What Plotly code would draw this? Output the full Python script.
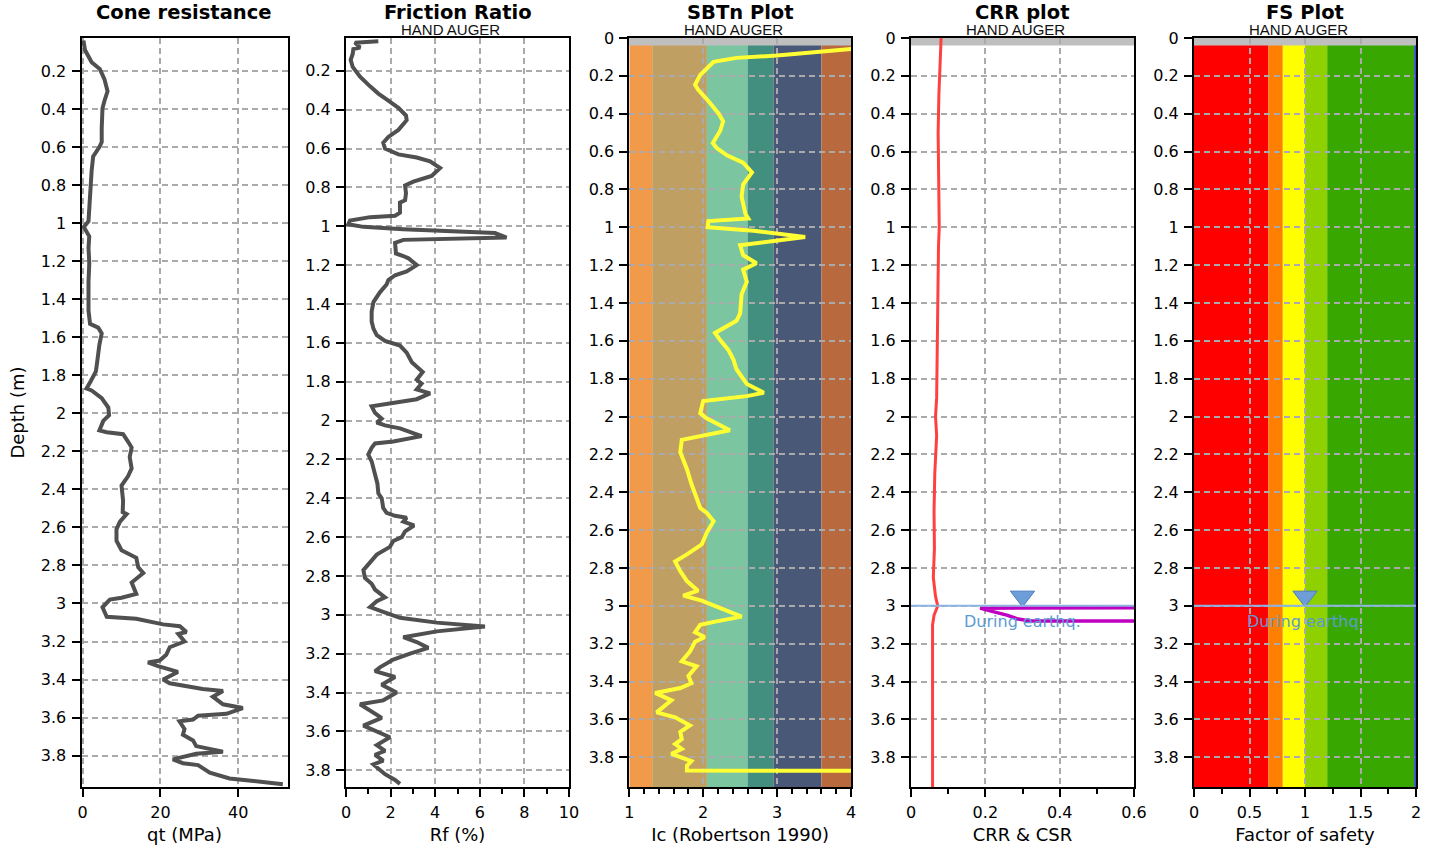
import plotly.graph_objects as go

# ---------------- data ----------------
qt_depth = [0.04, 0.09, 0.154, 0.19, 0.243, 0.307, 0.358, 0.396, 0.50, 0.574, 0.60, 0.65, 0.727, 0.80, 0.88,
            0.99, 1.02, 1.07, 1.13, 1.21, 1.31, 1.46, 1.53, 1.55, 1.58, 1.64, 1.72, 1.78, 1.83, 1.87, 1.88,
            1.92, 1.97, 2.01, 2.04, 2.09, 2.10, 2.11, 2.15, 2.18, 2.23, 2.29, 2.33, 2.38, 2.46, 2.52, 2.53,
            2.57, 2.61, 2.67, 2.72, 2.75, 2.76, 2.81, 2.84, 2.89, 2.95, 2.97, 2.98, 3.02, 3.07, 3.08, 3.11,
            3.12, 3.15, 3.16, 3.20, 3.23, 3.27, 3.30, 3.31, 3.33, 3.36, 3.40, 3.42, 3.45, 3.46, 3.49, 3.53,
            3.55, 3.58, 3.59, 3.61, 3.62, 3.66, 3.69, 3.72, 3.75, 3.78, 3.79, 3.82, 3.84, 3.85, 3.89, 3.92, 3.95]
qt_val = [0.2, 0.6, 2.3, 4.4, 5.6, 6.4, 5.6, 5.1, 4.9, 4.9, 4.3, 2.7, 2.3, 2.1, 1.7,
          1.5, 0.3, 1.7, 1.5, 1.7, 1.5, 1.5, 1.9, 4.0, 4.9, 4.3, 3.8, 3.4, 2.1, 1.0, 2.3,
          4.9, 6.6, 6.8, 5.3, 4.3, 6.2, 10.4, 11.7, 12.6, 12.1, 12.6, 11.7, 10.0, 10.4, 10.3, 11.3,
          9.6, 8.7, 8.7, 10.0, 12.6, 13.8, 14.3, 15.6, 12.6, 13.8, 10.0, 7.0, 5.1, 6.2, 13.8, 20.7,
          25.0, 26.7, 24.6, 26.2, 22.4, 21.5, 19.8, 16.8, 19.4, 24.5, 20.7, 22.4, 30.9, 36.1, 33.5, 36.1,
          41.2, 37.0, 29.7, 28.4, 24.9, 26.2, 25.8, 28.4, 29.2, 36.1, 29.2, 23.2, 25.8, 29.7, 32.7, 37.8, 51.5]

rf_depth = [0.048, 0.055, 0.08, 0.088, 0.113, 0.143, 0.18, 0.23, 0.28, 0.317, 0.347, 0.39, 0.43, 0.454, 0.504,
            0.54, 0.57, 0.60, 0.63, 0.646, 0.666, 0.70, 0.741, 0.77, 0.79, 0.83, 0.866, 0.878, 0.93, 0.946,
            0.953, 0.97, 0.99, 1.003, 1.015, 1.028, 1.035, 1.058, 1.065, 1.07, 1.085, 1.14, 1.153, 1.165,
            1.20, 1.232, 1.252, 1.277, 1.30, 1.34, 1.39, 1.44, 1.49, 1.527, 1.56, 1.59, 1.614, 1.65, 1.70,
            1.726, 1.75, 1.79, 1.81, 1.84, 1.86, 1.89, 1.91, 1.926, 1.96, 1.99, 2.01, 2.025, 2.04, 2.08,
            2.108, 2.118, 2.14, 2.175, 2.21, 2.25, 2.29, 2.325, 2.375, 2.40, 2.45, 2.475, 2.49, 2.50, 2.52,
            2.54, 2.57, 2.60, 2.62, 2.65, 2.69, 2.74, 2.77, 2.81, 2.84, 2.87, 2.91, 2.93, 2.96, 2.985,
            3.015, 3.04, 3.06, 3.085, 3.115, 3.14, 3.17, 3.20, 3.23, 3.27, 3.29, 3.32, 3.36, 3.40, 3.44,
            3.46, 3.50, 3.53, 3.57, 3.60, 3.63, 3.67, 3.70, 3.72, 3.75, 3.77, 3.82, 3.85, 3.87]
rf_val = [1.45, 0.40, 0.63, 0.33, 0.30, 0.21, 0.30, 0.63, 1.08, 1.45, 1.82, 2.35, 2.69, 2.72, 2.35,
          1.90, 1.67, 1.75, 2.35, 3.17, 3.77, 4.22, 3.84, 3.02, 2.65, 2.69, 2.65, 2.42, 2.42, 2.20,
          1.08, 0.18, 0.10, 0.78, 2.57, 4.81, 6.68, 7.2, 5.11, 2.57, 2.20, 2.24, 2.57, 2.80,
          3.17, 2.72, 2.20, 1.90, 1.82, 1.52, 1.23, 1.15, 1.15, 1.23, 1.38, 1.75, 2.42, 2.72, 2.95,
          3.24, 3.44, 3.17, 3.39, 3.17, 3.77, 3.17, 1.97, 1.15, 1.30, 1.60, 1.38, 1.75, 2.42, 3.39,
          2.12, 1.30, 1.15, 1.00, 1.15, 1.23, 1.35, 1.41, 1.45, 1.60, 1.67, 1.82, 2.20, 2.72, 2.57,
          3.05, 2.65, 2.50, 2.12, 1.97, 1.38, 1.00, 0.78, 0.85, 1.15, 1.30, 1.75, 1.38, 1.08, 1.67,
          2.42, 4.07, 6.23, 4.07, 2.57, 3.17, 3.69, 2.87, 2.12, 1.52, 1.30, 2.20, 1.60, 2.27, 1.67,
          0.63, 1.15, 1.60, 0.78, 1.38, 1.97, 1.38, 1.75, 1.30, 1.67, 1.23, 1.75, 2.20, 2.42]

ic_depth = [0.045, 0.075, 0.093, 0.105, 0.126, 0.157, 0.195, 0.247, 0.272, 0.324, 0.40, 0.44, 0.49, 0.555,
            0.58, 0.62, 0.658, 0.71, 0.774, 0.838, 0.928, 0.954, 0.967, 1.00, 1.018, 1.051, 1.069, 1.095,
            1.147, 1.19, 1.224, 1.288, 1.352, 1.455, 1.494, 1.524, 1.558, 1.596, 1.648, 1.70, 1.75, 1.828,
            1.874, 1.892, 1.918, 1.982, 2.008, 2.072, 2.098, 2.123, 2.188, 2.278, 2.355, 2.432, 2.483,
            2.509, 2.553, 2.612, 2.676, 2.728, 2.766, 2.817, 2.869, 2.92, 2.946, 2.972, 3.01, 3.057,
            3.082, 3.10, 3.139, 3.165, 3.19, 3.242, 3.293, 3.319, 3.37, 3.409, 3.434, 3.46, 3.499, 3.563,
            3.589, 3.632, 3.666, 3.704, 3.73, 3.756, 3.782, 3.82, 3.845, 3.87, 3.872]
ic_val = [4.4, 3.58, 3.0, 2.45, 2.14, 2.06, 1.96, 1.89, 1.93, 2.05, 2.21, 2.27, 2.23, 2.13,
          2.18, 2.32, 2.54, 2.66, 2.54, 2.52, 2.57, 2.61, 2.07, 2.06, 2.68, 3.38, 3.04, 2.50,
          2.54, 2.72, 2.54, 2.59, 2.52, 2.50, 2.45, 2.32, 2.16, 2.23, 2.34, 2.41, 2.45, 2.59,
          2.82, 2.59, 2.00, 1.96, 2.04, 2.36, 2.00, 1.71, 1.69, 1.78, 1.84, 1.91, 1.96,
          2.05, 2.14, 2.05, 1.98, 1.78, 1.62, 1.69, 1.78, 1.93, 1.73, 1.98, 2.23, 2.52,
          2.18, 1.96, 1.89, 2.02, 1.89, 1.82, 1.71, 1.91, 1.80, 1.84, 1.69, 1.35, 1.57, 1.37,
          1.62, 1.82, 1.69, 1.71, 1.62, 1.71, 1.57, 1.84, 1.78, 1.78, 4.6]

crr_depth = [0.0, 0.1, 0.2, 0.3, 0.5, 0.7, 0.9, 1.0, 1.1, 1.3, 1.5, 1.7, 1.9, 2.0, 2.1, 2.3, 2.5, 2.7,
             2.85, 2.95, 3.0, 3.05, 3.1, 3.5, 3.96]
crr_val = [0.081, 0.079, 0.077, 0.075, 0.073, 0.074, 0.074, 0.076, 0.074, 0.073, 0.072, 0.071, 0.069,
           0.066, 0.069, 0.064, 0.062, 0.063, 0.060, 0.066, 0.072, 0.062, 0.058, 0.058, 0.058]

csr_depth = [3.01, 3.012, 3.02, 3.035, 3.05, 3.068, 3.08, 3.08]
csr_val = [0.8, 0.186, 0.20, 0.235, 0.26, 0.285, 0.32, 0.8]

fs_depth = [0.04, 1.0, 2.0, 3.0, 3.96]
fs_val = [2.0, 2.0, 2.0, 2.0, 2.0]

sbt_bounds = [1.0, 1.31, 2.05, 2.6, 2.95, 3.6, 4.0]
sbt_colors = ["#F09A4A", "#C09F62", "#7CC5A1", "#428F80", "#4A5878", "#B8693E"]
fs_bounds = [0.0, 0.67, 0.8, 1.0, 1.2, 2.0]
fs_colors = ["#FF0000", "#FF8000", "#FFFF00", "#8ED000", "#38A800"]

hand_auger_depth = 0.04
water_depth = 3.0
wt_x_crr = 0.3
wt_x_fs = 1.0

titles = ["Cone resistance", "Friction Ratio", "SBTn Plot", "CRR plot", "FS Plot"]
xtitles = ["qt (MPa)", "Rf (%)", "Ic (Robertson 1990)", "CRR & CSR", "Factor of safety"]

# ---------------- layout geometry ----------------
# body margin is removed by the post script, so the figure fills the whole window
W, H = 1440, 848


def fx(px):
    return px / W


def fy(py):
    return 1 - py / H


px_x = [(81.5, 287.5), (346, 569), (629.3, 851), (911, 1134), (1194, 1416)]
ydom = [fy(787), fy(38)]

FONT = "DejaVu Sans"
GRID = "#AAAAAA"

fig = go.Figure()

fig.add_trace(go.Scatter(x=qt_val, y=qt_depth, xaxis="x", yaxis="y", mode="lines",
                         line=dict(color="#505050", width=4)))
fig.add_trace(go.Scatter(x=rf_val, y=rf_depth, xaxis="x2", yaxis="y2", mode="lines",
                         line=dict(color="#505050", width=4)))
fig.add_trace(go.Scatter(x=ic_val, y=ic_depth, xaxis="x3", yaxis="y3", mode="lines",
                         line=dict(color="#FFFF33", width=4)))
fig.add_trace(go.Scatter(x=crr_val, y=crr_depth, xaxis="x4", yaxis="y4", mode="lines",
                         line=dict(color="#FF4040", width=3)))
fig.add_trace(go.Scatter(x=csr_val, y=csr_depth, xaxis="x4", yaxis="y4", mode="lines",
                         line=dict(color="#C000C0", width=3.5)))
fig.add_trace(go.Scatter(x=fs_val, y=fs_depth, xaxis="x5", yaxis="y5", mode="lines",
                         line=dict(color="#4040FF", width=3)))
# water table markers
for xa, ya, xv in [("x4", "y4", wt_x_crr), ("x5", "y5", wt_x_fs)]:
    fig.add_trace(go.Scatter(x=[xv], y=[water_depth - 0.05], xaxis=xa, yaxis=ya, mode="markers",
                             marker=dict(symbol="triangle-down", size=21, color="#6E9ED8",
                                         line=dict(color="#4A7CC0", width=1))))

shapes = []
annotations = []

# SBT zone bands
for i, c in enumerate(sbt_colors):
    shapes.append(dict(type="rect", xref="x3", yref="y3 domain", x0=sbt_bounds[i], x1=sbt_bounds[i + 1],
                       y0=0, y1=1, fillcolor=c, line=dict(width=0), layer="below"))
# FS bands
for i, c in enumerate(fs_colors):
    shapes.append(dict(type="rect", xref="x5", yref="y5 domain", x0=fs_bounds[i], x1=fs_bounds[i + 1],
                       y0=0, y1=1, fillcolor=c, line=dict(width=0), layer="below"))
# hand auger gray bands
for k in ["3", "4", "5"]:
    shapes.append(dict(type="rect", xref="x%s domain" % k, yref="y%s" % k, x0=0, x1=1,
                       y0=0, y1=hand_auger_depth, fillcolor="#BFBFBF", line=dict(width=0), layer="below"))
# water table lines
for k in ["4", "5"]:
    shapes.append(dict(type="line", xref="x%s domain" % k, yref="y%s" % k, x0=0, x1=1,
                       y0=water_depth, y1=water_depth, line=dict(color="#8DB3E2", width=2), layer="above"))

# titles
for i, t in enumerate(titles):
    cx = fx((px_x[i][0] + px_x[i][1]) / 2)
    annotations.append(dict(text="<b>%s</b>" % t, x=cx, y=fy(12.5), xref="paper", yref="paper",
                            showarrow=False, xanchor="center", yanchor="middle", borderpad=0,
                            font=dict(family=FONT, size=19.5, color="black")))
for i in [1, 2, 3, 4]:
    cx = fx((px_x[i][0] + px_x[i][1]) / 2)
    annotations.append(dict(text="HAND AUGER", x=cx, xshift=-7, y=fy(30), xref="paper", yref="paper",
                            showarrow=False, xanchor="center", yanchor="middle", borderpad=0,
                            font=dict(family="Liberation Sans Narrow, Liberation Sans", size=15,
                                      color="#111111")))
for xa, ya, xv in [("x4", "y4", wt_x_crr), ("x5", "y5", wt_x_fs)]:
    annotations.append(dict(text="During earthq.", x=xv, y=water_depth, xref=xa, yref=ya, showarrow=False,
                            xanchor="center", yanchor="top", yshift=-4,
                            font=dict(family=FONT, size=16, color="#5B9BD5")))

xcfg = [
    dict(range=[-0.3, 52.7], tick0=0, dtick=20, minor=None),
    dict(range=[0, 10], tick0=0, dtick=2, minor=dict(dtick=1)),
    dict(range=[1, 4], tick0=1, dtick=1, minor=dict(dtick=0.2)),
    dict(range=[0, 0.6], tick0=0, dtick=0.2, minor=dict(dtick=0.1)),
    dict(range=[0, 2], tick0=0, dtick=0.5, minor=dict(dtick=0.25)),
]
yranges = [[3.965, 0.027], [3.886, 0.031], [3.957, 0], [3.957, 0], [3.957, 0]]

layout = dict(width=W, height=H, margin=dict(l=0, r=0, t=0, b=0, autoexpand=False), showlegend=False,
              paper_bgcolor="white", plot_bgcolor="white",
              font=dict(family=FONT, size=16, color="black"),
              shapes=shapes, annotations=annotations)

for i in range(5):
    sfx = "" if i == 0 else str(i + 1)
    xd = [fx(px_x[i][0]), fx(px_x[i][1])]
    c = xcfg[i]
    xa = dict(domain=xd, anchor="y" + sfx, range=c["range"], tick0=c["tick0"], dtick=c["dtick"],
              automargin=False,
              showline=True, mirror=True, linecolor="black", linewidth=2,
              ticks="outside", ticklen=8, tickwidth=2, tickcolor="black", ticklabelstandoff=2,
              showgrid=True, gridcolor=GRID, gridwidth=1.5, griddash="6px,4px", zeroline=False,
              tickfont=dict(family=FONT, size=16, color="black"),
              title=dict(text=xtitles[i], font=dict(family=FONT, size=18, color="black"), standoff=7))
    if c["minor"]:
        xa["minor"] = dict(dtick=c["minor"]["dtick"], ticks="outside", ticklen=5, tickwidth=2,
                           tickcolor="black", showgrid=False)
    ya = dict(domain=ydom, anchor="x" + sfx, range=yranges[i], tick0=0, dtick=0.2,
              automargin=False,
              showline=True, mirror=True, linecolor="black", linewidth=2,
              ticks="outside", ticklen=8, tickwidth=2, tickcolor="black", ticklabelstandoff=2,
              showgrid=True, gridcolor=GRID, gridwidth=1.5, griddash="6px,4px", zeroline=False,
              tickfont=dict(family=FONT, size=16, color="black"))
    if i == 0:
        ya["title"] = dict(text="Depth (m)", font=dict(family=FONT, size=18, color="black"), standoff=12)
    if i == 4:
        ya["layer"] = "below traces"
    layout["xaxis" + sfx] = xa
    layout["yaxis" + sfx] = ya

fig.update_layout(**layout)

fig.write_html("out.html", config=dict(displayModeBar=False),
               post_script="document.body.style.margin='0px';document.body.style.overflow='hidden';")
